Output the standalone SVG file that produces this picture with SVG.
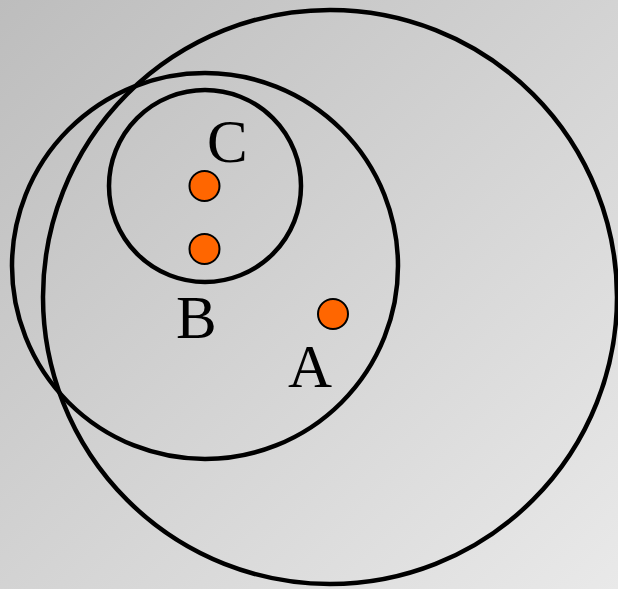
<svg xmlns="http://www.w3.org/2000/svg" width="618" height="589" viewBox="0 0 618 589">
<defs>
<linearGradient id="bg" x1="0" y1="0" x2="1" y2="1">
<stop offset="0" stop-color="#bdbdbd"/>
<stop offset="1" stop-color="#e9e9e9"/>
</linearGradient>
</defs>
<style>
.ring{fill:none;stroke:#000;stroke-width:4.5}
.dot{fill:#ff6600;stroke:#000;stroke-width:2}
.lbl{font-family:"Liberation Serif","Times New Roman",serif;font-size:61px;fill:#000}
</style>
<rect width="618" height="589" fill="url(#bg)"/>
<g id="setA"><circle class="ring" cx="330" cy="297" r="287"/></g>
<g id="setB"><circle class="ring" cx="205" cy="266" r="193"/></g>
<g id="setC"><circle class="ring" cx="205" cy="186" r="96"/></g>
<g id="pointC"><circle class="dot" cx="204.5" cy="186" r="15"/></g>
<g id="pointB"><circle class="dot" cx="204.5" cy="249" r="15"/></g>
<g id="pointA"><circle class="dot" cx="333" cy="314" r="15"/></g>
<g id="labels">
<text class="lbl" x="207" y="162">C</text>
<text class="lbl" x="176" y="338">B</text>
<text class="lbl" x="288" y="387">A</text>
</g>
<g id="connectors"/>
</svg>
